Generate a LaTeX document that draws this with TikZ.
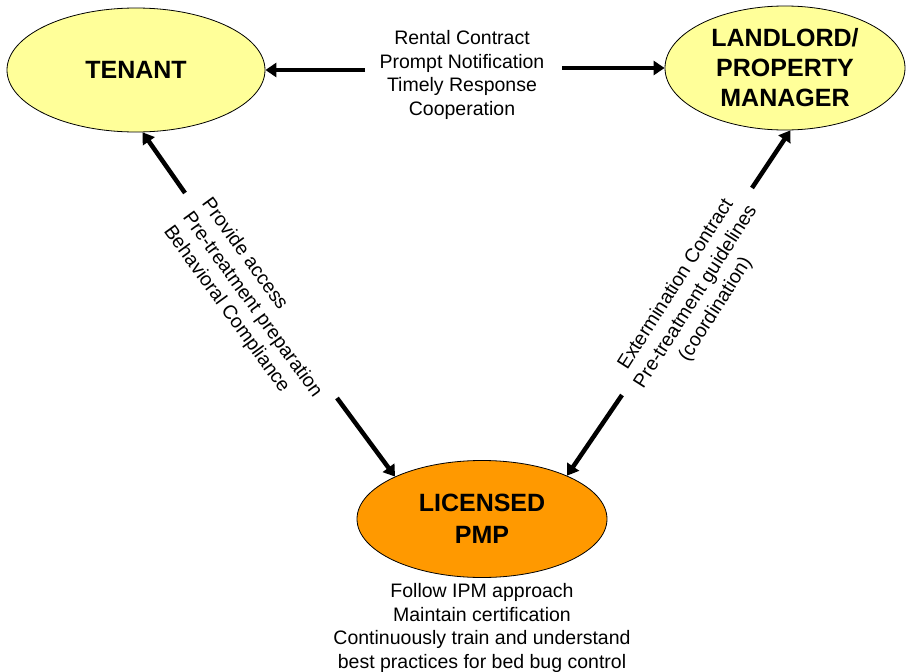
\documentclass[tikz,border=0pt]{standalone}
\usepackage{fontspec}
\setmainfont{Liberation Sans}
\usetikzlibrary{shapes.geometric,arrows.meta}
\definecolor{partyyellow}{RGB}{255,255,153}
\definecolor{pmporange}{RGB}{255,153,0}

\begin{document}
\begin{tikzpicture}
  [x=1pt, y=-1pt,
   every node/.style={font=\fontsize{19.5}{23.5}\selectfont, inner sep=0pt},
   party/.style={draw, ellipse, line width=0.8pt, align=center},
   link/.style={line width=4.5pt, -{Triangle[width=14pt,length=11pt]}}]
  \useasboundingbox (0,0) rectangle (906,672);
  % the three parties
  \node [party, fill=partyyellow, minimum width=258pt, minimum height=124pt,
         font=\fontsize{25}{30}\selectfont\bfseries] (tenant) at (136,70) {TENANT};
  \node [party, fill=partyyellow, minimum width=240pt, minimum height=124pt,
         font=\fontsize{25}{30}\selectfont\bfseries] (landlord) at (785,68) {LANDLORD/\\PROPERTY\\MANAGER};
  \node [party, fill=pmporange, minimum width=250pt, minimum height=117pt,
         font=\fontsize{25}{32}\selectfont\bfseries] (pmp) at (482,519) {LICENSED\\PMP};
  % duties
  \node [align=center] (rent) at (462,75) {Rental Contract\\Prompt Notification\\Timely Response\\Cooperation};
  \node [align=center] (pmpduty) at (482,628) {Follow IPM approach\\Maintain certification\\Continuously train and understand\\best practices for bed bug control};
  \node [align=left, rotate=-54] (tenantduty) at (252,305) {Provide access\\Pre-treatment preparation\\Behavioral Compliance};
  \node [align=center, rotate=57.6] (landlordduty) at (696,297) {Extermination Contract\\Pre-treatment guidelines\\(coordination)};
  % arrow tails
  \coordinate (rentL) at (365,70);
  \coordinate (rentR) at (562,68);
  \coordinate (accessT) at (185,193);
  \coordinate (accessB) at (337,398);
  \coordinate (extermT) at (752,188);
  \coordinate (extermB) at (622,395);
  \draw [link] (rentL) -- (tenant);
  \draw [link] (rentR) -- (landlord);
  \draw [link] (accessT) -- (tenant.-84);
  \draw [link] (accessB) -- (pmp.154);
  \draw [link] (extermT) -- (landlord.-85);
  \draw [link] (extermB) -- (pmp.27);
\end{tikzpicture}
\end{document}
